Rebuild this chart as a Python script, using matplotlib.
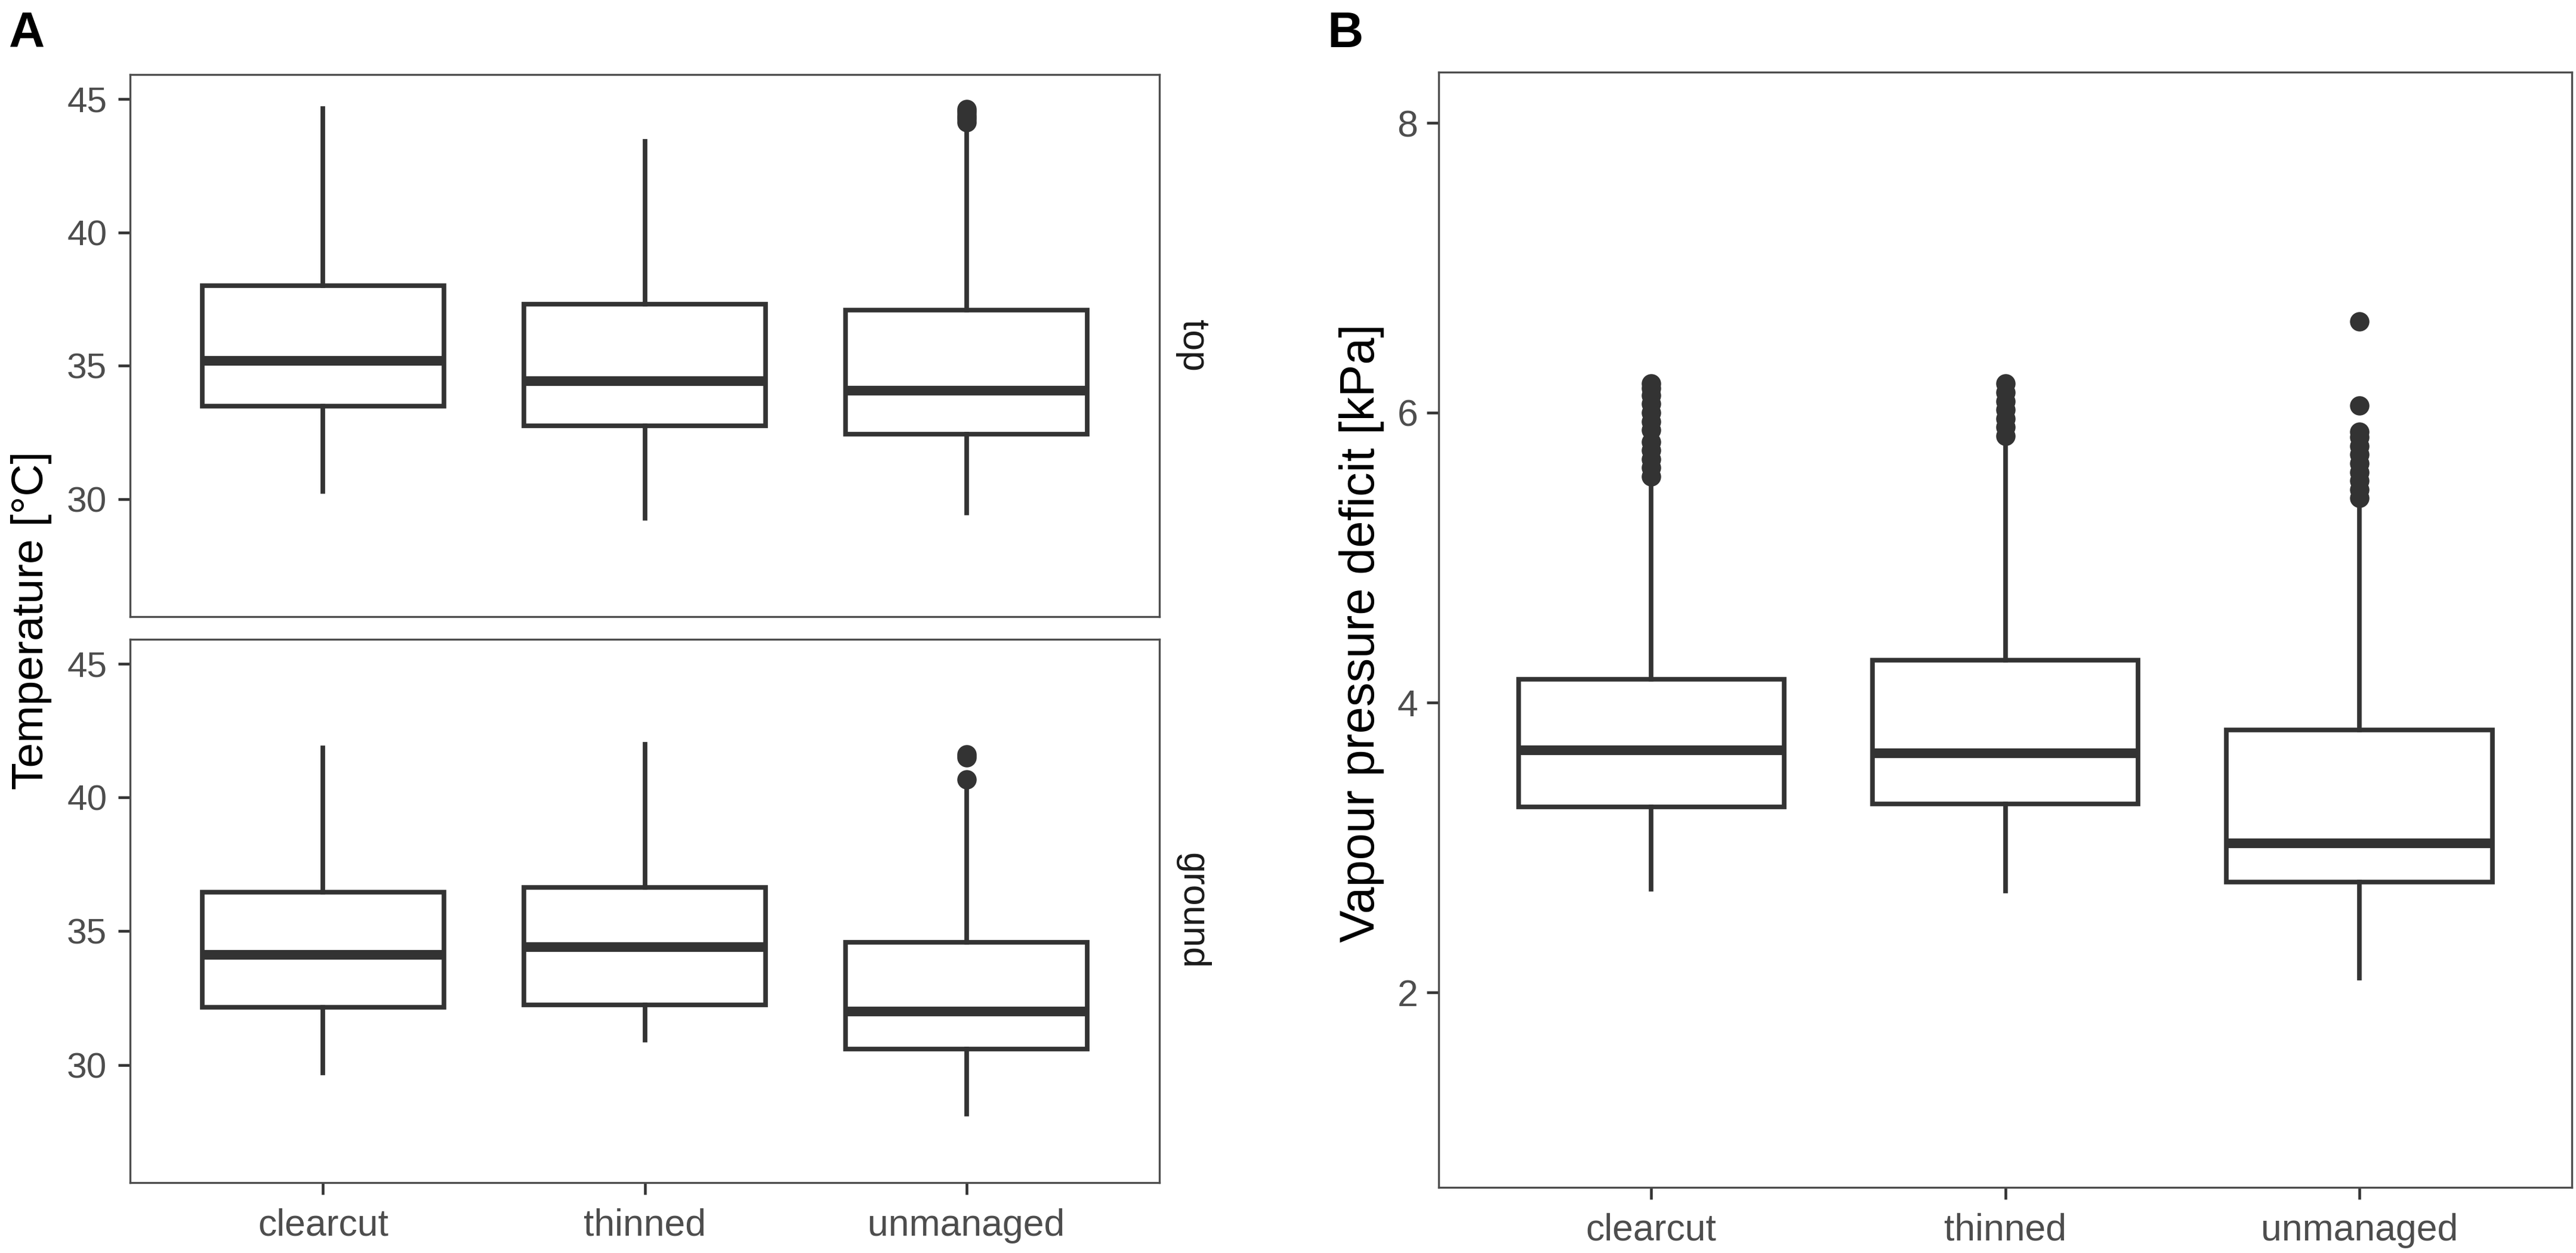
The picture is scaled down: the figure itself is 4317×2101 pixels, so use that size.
import matplotlib
matplotlib.use("Agg")
import matplotlib.pyplot as plt

plt.rcParams['font.family'] = ['Liberation Sans', 'DejaVu Sans']

# categories
groups = ['clearcut', 'thinned', 'unmanaged']

# temperature, top sensor
top_whislo = [30.3, 29.3, 29.5]
top_q1 = [33.48, 32.76, 32.45]
top_med = [35.18, 34.43, 34.08]
top_q3 = [38.0, 37.31, 37.08]
top_whishi = [44.64, 43.4, 44.0]
top_fliers = [[], [], [44.13, 44.25, 44.37, 44.5, 44.62]]

# temperature, ground sensor
gr_whislo = [29.7, 30.93, 28.16]
gr_q1 = [32.15, 32.24, 30.59]
gr_med = [34.13, 34.4, 31.99]
gr_q3 = [36.47, 36.65, 34.58]
gr_whishi = [41.86, 41.99, 40.4]
gr_fliers = [[], [], [40.68, 41.5, 41.62]]

# vapour pressure deficit
vpd_whislo = [2.71, 2.70, 2.10]
vpd_q1 = [3.28, 3.30, 2.76]
vpd_med = [3.67, 3.65, 3.03]
vpd_q3 = [4.16, 4.29, 3.81]
vpd_whishi = [5.48, 5.77, 5.35]
vpd_fliers = [
    [5.56, 5.62, 5.68, 5.74, 5.80, 5.88, 5.94, 6.00, 6.06, 6.12, 6.17, 6.20],
    [5.84, 5.90, 5.96, 6.02, 6.08, 6.14, 6.20],
    [5.41, 5.47, 5.53, 5.59, 5.65, 5.71, 5.77, 5.83, 5.87, 6.05, 6.63],
]

temp_ticks = [30, 35, 40, 45]
vpd_ticks = [2, 4, 6, 8]

DARK = '#333333'
TICKCOL = '#4d4d4d'


def make_stats(lo, q1, med, q3, hi, fl):
    return [dict(whislo=lo[i], q1=q1[i], med=med[i], q3=q3[i], whishi=hi[i],
                 fliers=fl[i], label=groups[i]) for i in range(len(groups))]


def draw_box(ax, stats):
    ax.bxp(stats, positions=[1, 2, 3], widths=0.75, showcaps=False,
           patch_artist=True,
           boxprops=dict(facecolor='white', edgecolor=DARK, linewidth=1.85),
           medianprops=dict(color=DARK, linewidth=3.9, solid_capstyle='butt'),
           whiskerprops=dict(color=DARK, linewidth=1.85),
           flierprops=dict(marker='o', markerfacecolor=DARK, markeredgecolor=DARK,
                           markersize=7.3, markeredgewidth=0.5, linestyle='none'))
    ax.set_xlim(0.4, 3.6)
    for s in ax.spines.values():
        s.set_color(TICKCOL)
        s.set_linewidth(0.8)
    ax.tick_params(length=4.8, width=1.1, color=DARK, labelcolor=TICKCOL)


fig = plt.figure(figsize=(4317 / 300, 2101 / 300), dpi=300)

# panel A, two facets
ax_top = fig.add_axes([0.0505, 0.5078, 0.3996, 0.4329])
ax_gr = fig.add_axes([0.0505, 0.0562, 0.3996, 0.4336])

draw_box(ax_top, make_stats(top_whislo, top_q1, top_med, top_q3, top_whishi, top_fliers))
draw_box(ax_gr, make_stats(gr_whislo, gr_q1, gr_med, gr_q3, gr_whishi, gr_fliers))

for ax in (ax_top, ax_gr):
    ax.set_ylim(25.6, 45.92)
    ax.set_yticks(temp_ticks)
    ax.tick_params(axis='y', labelsize=14.5, pad=4.5)
ax_top.tick_params(axis='x', bottom=False, labelbottom=False)
ax_gr.tick_params(axis='x', labelsize=15, pad=5.5)

fig.text(53 / 4317, 0.505, 'Temperature [°C]', rotation=90, ha='center', va='center',
         fontsize=18, color='black')
fig.text(1998 / 4317, 0.7244, 'top', rotation=-90, ha='center', va='center',
         fontsize=15, color='#1a1a1a')
fig.text(1998 / 4317, 0.273, 'ground', rotation=-90, ha='center', va='center',
         fontsize=15, color='#1a1a1a')

# panel B
ax_b = fig.add_axes([0.5585, 0.0524, 0.4399, 0.890])
draw_box(ax_b, make_stats(vpd_whislo, vpd_q1, vpd_med, vpd_q3, vpd_whishi, vpd_fliers))
ax_b.set_ylim(0.654, 8.35)
ax_b.set_yticks(vpd_ticks)
ax_b.tick_params(axis='y', labelsize=15, pad=3.5)
ax_b.tick_params(axis='x', labelsize=15, pad=5.5)

fig.text(2282 / 4317, 0.495, 'Vapour pressure deficit [kPa]', rotation=90,
         ha='center', va='center', fontsize=19.5, color='black')

# panel letters
fig.text(15 / 4317, 1 - 18 / 2101, 'A', ha='left', va='top', fontsize=20, fontweight='bold')
fig.text(2224 / 4317, 1 - 18 / 2101, 'B', ha='left', va='top', fontsize=20, fontweight='bold')

fig.savefig('out.png', dpi=300, facecolor='white')
